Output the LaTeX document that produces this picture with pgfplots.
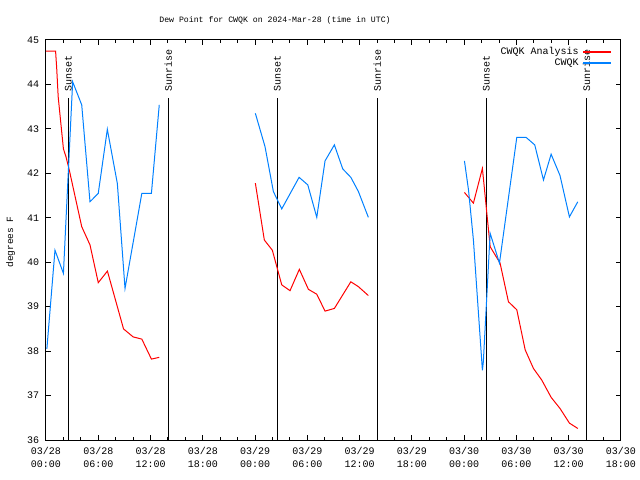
\documentclass[border=0pt]{standalone}
\usepackage{fontspec}
\setmainfont{Liberation Mono}
\usepackage{pgfplots}
\pgfplotsset{compat=1.18}

\definecolor{anared}{RGB}{255,0,0}
\definecolor{obsblue}{RGB}{0,128,255}

\pgfplotsset{
	legend image code/.code={\draw[#1, line width=1.2bp] (0bp,0bp) -- (28bp,0bp);},
}

\begin{document}
\begin{tikzpicture}[
	sunlabel/.style = {anchor=west, rotate=90, inner xsep=6.5bp, inner ysep=0pt, font=\fontsize{10bp}{12bp}\selectfont},
	sunline/.style = {black, line width=1bp},
]
\path[use as bounding box] (-46bp,-40bp) rectangle (594bp,440bp);
\begin{axis}[
	at={(0,0)}, anchor=south west, scale only axis,
	width=575bp, height=400bp,
	xmin=0, xmax=66, ymin=36, ymax=45,
	axis line style={black, line width=1bp},
	every tick/.style={black, line width=1bp},
	tick align=inside, tick pos=both,
	major tick length=5bp, minor tick length=2.7bp,
	xtick={0,6,...,66}, minor xtick={0,2,...,66},
	ytick={36,37,...,45},
	xticklabels={{03/28\\00:00},{03/28\\06:00},{03/28\\12:00},{03/28\\18:00},
		{03/29\\00:00},{03/29\\06:00},{03/29\\12:00},{03/29\\18:00},
		{03/30\\00:00},{03/30\\06:00},{03/30\\12:00},{03/30\\18:00}},
	xticklabel style={align=center, font=\fontsize{10bp}{13bp}\selectfont, inner sep=0pt, yshift=-7bp},
	yticklabel style={font=\fontsize{10bp}{12bp}\selectfont, inner sep=0pt, xshift=-6.7bp},
	/pgf/number format/assume math mode=true,
	title={Dew Point for CWQK on 2024-Mar-28 (time in UTC)},
	title style={at={(axis description cs:0.3983,1.033)}, anchor=center, font=\fontsize{8.2bp}{10bp}\selectfont},
	ylabel={degrees F},
	ylabel style={at={(axis description cs:-0.0614,0.495)}, anchor=center, font=\fontsize{9.5bp}{11bp}\selectfont},
	unbounded coords=jump,
	legend style={draw=none, fill=none, at={(axis description cs:0.9845,0.984)}, anchor=north east,
		font=\fontsize{10bp}{11bp}\selectfont, row sep=0.6bp, column sep=3bp, inner sep=0pt, nodes={inner sep=1bp}},
	legend cell align=right, legend plot pos=right,
]

% sunset / sunrise markers
\addplot[sunline, forget plot] coordinates {(2.55,36) (2.55,43.69)} node[pos=1, sunlabel] {Sunset};
\addplot[sunline, forget plot] coordinates {(14.04,36) (14.04,43.69)} node[pos=1, sunlabel] {Sunrise};
\addplot[sunline, forget plot] coordinates {(26.55,36) (26.55,43.69)} node[pos=1, sunlabel] {Sunset};
\addplot[sunline, forget plot] coordinates {(38.04,36) (38.04,43.69)} node[pos=1, sunlabel] {Sunrise};
\addplot[sunline, forget plot] coordinates {(50.55,36) (50.55,43.69)} node[pos=1, sunlabel] {Sunset};
\addplot[sunline, forget plot] coordinates {(62.04,36) (62.04,43.69)} node[pos=1, sunlabel] {Sunrise};

% CWQK Analysis
\addplot[anared, line width=1bp] coordinates {
(0,44.75) (1.1,44.75) (1.23,44.36) (1.4,43.72) (2.0,42.55) (2.3,42.37) (2.7,42.05)
(4.1,40.8) (5.05,40.39) (6.0,39.54) (7.05,39.8) (8.9,38.5) (10.0,38.32) (11.0,38.27)
(12.1,37.82) (13.0,37.86)
(18,nan)
(24.03,41.78) (25.06,40.5) (25.98,40.27) (27.06,39.49) (28.01,39.36) (29.08,39.84)
(30.12,39.39) (31.08,39.28) (32.03,38.9) (33.1,38.96) (34.99,39.56) (35.86,39.45) (37.0,39.25)
(42,nan)
(48.03,41.57) (49.06,41.33) (50.09,42.11) (50.25,41.8) (50.98,40.35) (52.12,39.98)
(53.08,39.11) (54.04,38.93) (55.0,38.03) (55.95,37.61) (56.9,37.35) (57.98,36.96)
(59.0,36.71) (60.08,36.38) (61.04,36.26)
};
\addlegendentry{CWQK Analysis}

% CWQK
\addplot[obsblue, line width=1bp] coordinates {
(0.1,38.05) (1.03,40.27) (2.0,39.75) (3.06,44.06) (4.1,43.54) (5.05,41.36) (6.0,41.55)
(7.04,42.99) (8.19,41.77) (9.07,39.41) (11.0,41.55) (12.1,41.55) (13.0,43.54)
(18,nan)
(24.03,43.35) (25.14,42.6) (26.1,41.59) (27.06,41.2) (29.05,41.91) (30.05,41.74)
(31.08,41.01) (32.03,42.28) (33.1,42.64) (34.06,42.1) (34.99,41.91) (35.86,41.59) (37.0,41.01)
(42,nan)
(48.03,42.28) (48.5,41.62) (49.06,40.5) (50.09,37.57) (50.2,37.76) (50.98,40.65)
(52.05,39.98) (54.04,42.81) (55.1,42.81) (56.1,42.64) (57.1,41.85) (57.98,42.43)
(59.0,41.95) (60.08,41.02) (61.04,41.36)
};
\addlegendentry{CWQK}

\end{axis}
\end{tikzpicture}
\end{document}
